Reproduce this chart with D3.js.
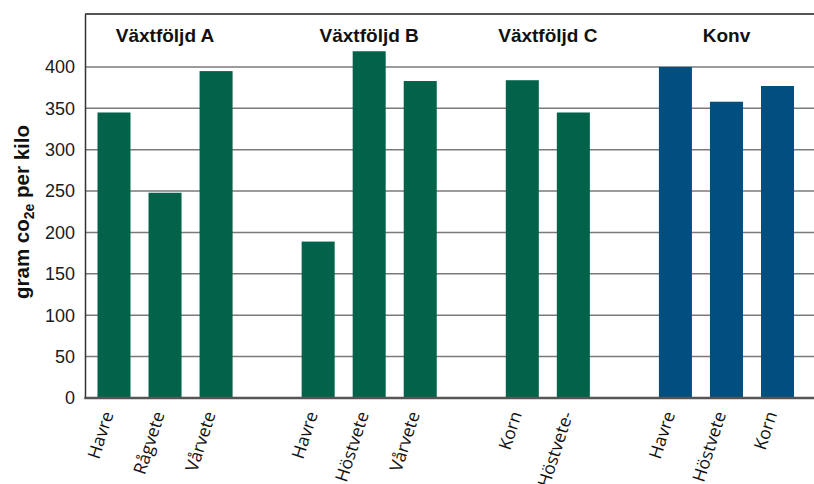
<!DOCTYPE html>
<html>
<head>
<meta charset="utf-8">
<script src="https://cdn.jsdelivr.net/npm/d3@7/dist/d3.min.js"></script>
<style>
  html, body { margin: 0; padding: 0; background: #fff; }
  svg { display: block; }
</style>
</head>
<body>
<svg id="chart" width="814" height="484"></svg>
<script>
// Crop rotation groups and their crops
const groups = ["Växtföljd A", "Växtföljd B", "Växtföljd C", "Konv"];
const crops = [
  ["Havre", "Rågvete", "Vårvete"],
  ["Havre", "Höstvete", "Vårvete"],
  ["Korn", "Höstvete-"],
  ["Havre", "Höstvete", "Korn"]
];
// gram CO2e per kilo
const values = [
  [345, 248, 395],
  [189, 419, 383],
  [384, 345],
  [400, 358, 377]
];
const yTicks = [0, 50, 100, 150, 200, 250, 300, 350, 400];
const groupColors = ["#02634a", "#02634a", "#02634a", "#004f7f"];

const width = 814, height = 484;
const margin = { top: 14, right: 0, bottom: 86, left: 85 };
const svg = d3.select("#chart");

// One slot per bar plus an empty slot between groups
const slots = [];
const bars = [];
groups.forEach((g, gi) => {
  if (gi > 0) slots.push("gap" + gi);
  crops[gi].forEach((c, ci) => {
    const key = g + "|" + c;
    slots.push(key);
    bars.push({ key, group: g, gi, crop: c, value: values[gi][ci] });
  });
});

const x = d3.scaleBand()
  .domain(slots)
  .range([88.5, 803])
  .paddingInner(0.353)
  .paddingOuter(0.176);

const y = d3.scaleLinear()
  .domain([0, 464])
  .range([height - margin.bottom, margin.top]);

const y0 = y(0);

// Gridlines
svg.append("g")
  .selectAll("line")
  .data(yTicks.filter(t => t > 0))
  .join("line")
  .attr("x1", margin.left).attr("x2", width)
  .attr("y1", d => y(d)).attr("y2", d => y(d))
  .attr("stroke", "#7a7a7a").attr("stroke-width", 1.5);

// Top frame line
svg.append("line")
  .attr("x1", margin.left).attr("x2", width)
  .attr("y1", margin.top).attr("y2", margin.top)
  .attr("stroke", "#555").attr("stroke-width", 2);

// Bars
svg.append("g")
  .selectAll("rect")
  .data(bars)
  .join("rect")
  .attr("x", d => x(d.key))
  .attr("width", x.bandwidth())
  .attr("y", d => y(d.value))
  .attr("height", d => y0 - y(d.value))
  .attr("fill", d => groupColors[d.gi]);

// Y axis
const yAxis = d3.axisLeft(y).tickValues(yTicks).tickSize(0).tickPadding(10);
const gy = svg.append("g")
  .attr("transform", `translate(${margin.left},0)`)
  .call(yAxis);
gy.select(".domain").attr("stroke", "#333").attr("stroke-width", 1.5);
gy.selectAll("text")
  .attr("font-family", "Liberation Sans, Arial, sans-serif")
  .attr("font-size", 18)
  .attr("fill", "#1a1a1a");

// Bottom axis line
svg.append("line")
  .attr("x1", margin.left - 0.75).attr("x2", width)
  .attr("y1", y0).attr("y2", y0)
  .attr("stroke", "#555").attr("stroke-width", 2.5);

// Crop labels under the bars
svg.append("g")
  .selectAll("text")
  .data(bars)
  .join("text")
  .attr("transform", d => `translate(${x(d.key) + x.bandwidth() / 2 - 6},${y0 + 14}) rotate(-72)`)
  .attr("text-anchor", "end")
  .attr("dy", "0.35em")
  .attr("font-family", "Open Sans, sans-serif")
  .attr("font-size", 17.5)
  .attr("fill", "#111")
  .text(d => d.crop);

// Group headings
svg.append("g")
  .selectAll("text")
  .data(groups)
  .join("text")
  .attr("x", (g, gi) => {
    const keys = crops[gi].map(c => g + "|" + c);
    const a = x(keys[0]);
    const b = x(keys[keys.length - 1]) + x.bandwidth();
    return (a + b) / 2;
  })
  .attr("y", 41.5)
  .attr("text-anchor", "middle")
  .attr("font-family", "Liberation Sans, Arial, sans-serif")
  .attr("font-weight", "bold")
  .attr("font-size", 19)
  .attr("fill", "#111")
  .text(g => g);

// Y axis title with subscript
const title = svg.append("text")
  .attr("transform", `translate(29,${(y(0) + margin.top) / 2 + 6}) rotate(-90)`)
  .attr("text-anchor", "middle")
  .attr("font-family", "Liberation Sans, Arial, sans-serif")
  .attr("font-weight", "bold")
  .attr("font-size", 20.5)
  .attr("fill", "#111");
title.append("tspan").text("gram co");
title.append("tspan").attr("font-size", 14).attr("dy", 4.5).text("2e");
title.append("tspan").attr("dy", -4.5).text(" per kilo");
</script>
</body>
</html>
